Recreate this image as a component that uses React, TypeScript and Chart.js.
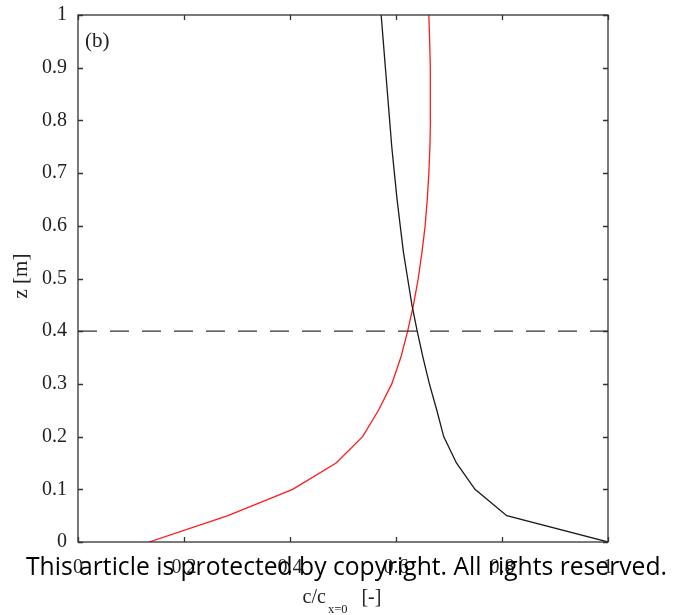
import React, { useEffect, useRef } from "react";
import { Chart, registerables } from "chart.js";

Chart.register(...registerables);

// Height above the bed [m]
const zLevels = [
  0, 0.05, 0.1, 0.15, 0.2, 0.25, 0.3, 0.35, 0.4, 0.45, 0.5,
  0.55, 0.6, 0.65, 0.7, 0.75, 0.8, 0.85, 0.9, 0.95, 1.0,
];

// Normalised concentration profiles c/c_{x=0}
const redProfile = [
  0.134, 0.283, 0.405, 0.487, 0.537, 0.567, 0.592, 0.609, 0.622, 0.633, 0.642,
  0.649, 0.655, 0.659, 0.662, 0.664, 0.665, 0.665, 0.6645, 0.6635, 0.662,
];
const blackProfile = [
  1.0, 0.809, 0.749, 0.714, 0.69, 0.677, 0.663, 0.651, 0.64, 0.63, 0.622,
  0.614, 0.608, 0.602, 0.597, 0.592, 0.588, 0.584, 0.58, 0.576, 0.572,
];

const xTicks = [0, 0.2, 0.4, 0.6, 0.8, 1];
const yTicks = [0, 0.1, 0.2, 0.3, 0.4, 0.5, 0.6, 0.7, 0.8, 0.9, 1];
const referenceDepth = 0.4;

const panelLabel = "(b)";
const yTitle = "z [m]";
const xTitleMain = "c/c";
const xTitleSub = "x=0";
const xTitleUnit = "[-]";
const notice = "This article is protected by copyright. All rights reserved.";

const SERIF = '"Liberation Serif", "Times New Roman", serif';
const AXIS = "#333333";

const fmt = (v: number) => String(Number(v.toFixed(2)));

const framePlugin = {
  id: "frame",
  afterDatasetsDraw(chart: any) {
    const { ctx, chartArea: a, scales } = chart;
    ctx.save();
    ctx.strokeStyle = AXIS;
    ctx.lineWidth = 1.3;
    ctx.strokeRect(a.left, a.top, a.right - a.left, a.bottom - a.top);
    ctx.beginPath();
    const tl = 5;
    xTicks.forEach((v) => {
      const px = Math.round(scales.x.getPixelForValue(v)) + 0.5;
      ctx.moveTo(px, a.bottom);
      ctx.lineTo(px, a.bottom - tl);
      ctx.moveTo(px, a.top);
      ctx.lineTo(px, a.top + tl);
    });
    yTicks.forEach((v) => {
      const py = Math.round(scales.y.getPixelForValue(v)) + 0.5;
      ctx.moveTo(a.left, py);
      ctx.lineTo(a.left + tl, py);
      ctx.moveTo(a.right, py);
      ctx.lineTo(a.right - tl, py);
    });
    ctx.stroke();
    ctx.restore();
  },
  afterDraw(chart: any) {
    const { ctx, chartArea: a } = chart;
    ctx.save();
    ctx.fillStyle = "#222";
    ctx.textBaseline = "alphabetic";

    // panel label
    ctx.font = `21px ${SERIF}`;
    ctx.textAlign = "left";
    ctx.fillText(panelLabel, a.left + 7, a.top + 32);

    // y title, rotated
    ctx.save();
    ctx.translate(27, 276);
    ctx.rotate(-Math.PI / 2);
    ctx.textAlign = "center";
    ctx.font = `21px ${SERIF}`;
    ctx.fillText(yTitle, 0, 0);
    ctx.restore();

    // x title with subscript
    const mainFont = `20px ${SERIF}`;
    const subFont = `12.5px ${SERIF}`;
    const gap = 14;
    ctx.font = mainFont;
    const w1 = ctx.measureText(xTitleMain).width;
    const w3 = ctx.measureText(xTitleUnit).width;
    ctx.font = subFont;
    const w2 = ctx.measureText(xTitleSub).width;
    const total = w1 + 2 + w2 + gap + w3;
    let x0 = 342 - total / 2;
    const base = 603;
    ctx.textAlign = "left";
    ctx.font = mainFont;
    ctx.fillText(xTitleMain, x0, base);
    x0 += w1 + 2;
    ctx.font = subFont;
    ctx.fillText(xTitleSub, x0, base + 10);
    x0 += w2 + gap;
    ctx.font = mainFont;
    ctx.fillText(xTitleUnit, x0, base);

    // copyright notice across the bottom
    ctx.fillStyle = "#000";
    ctx.font = `25px "Open Sans", "DejaVu Sans", sans-serif`;
    const nw = ctx.measureText(notice).width;
    const targetW = 641;
    ctx.translate(26, 575);
    ctx.scale(targetW / nw, 1);
    ctx.textAlign = "left";
    ctx.fillText(notice, 0, 0);
    ctx.restore();
  },
};

export default function App() {
  const canvasRef = useRef<HTMLCanvasElement | null>(null);

  useEffect(() => {
    document.body.style.margin = "0";
    const canvas = canvasRef.current;
    if (!canvas) return;

    const redPts = zLevels.map((z, i) => ({ x: redProfile[i], y: z }));
    const blackPts = zLevels.map((z, i) => ({ x: blackProfile[i], y: z }));

    const chart = new Chart(canvas, {
      type: "scatter",
      data: {
        datasets: [
          {
            data: [
              { x: 0, y: referenceDepth },
              { x: 1, y: referenceDepth },
            ],
            showLine: true,
            borderColor: AXIS,
            borderWidth: 1.3,
            borderDash: [19, 13],
            pointRadius: 0,
          },
          {
            data: blackPts,
            showLine: true,
            borderColor: "#1a1a1a",
            borderWidth: 1.3,
            pointRadius: 0,
            tension: 0,
          },
          {
            data: redPts,
            showLine: true,
            borderColor: "#ff1a1a",
            borderWidth: 1.3,
            pointRadius: 0,
            tension: 0,
          },
        ],
      },
      options: {
        responsive: false,
        animation: false,
        layout: { padding: { left: 0, right: 67, top: 15, bottom: 0 } },
        plugins: {
          legend: { display: false },
          tooltip: { enabled: false },
        },
        scales: {
          x: {
            type: "linear",
            min: 0,
            max: 1,
            border: { display: false },
            grid: { display: false, drawTicks: false },
            afterBuildTicks: (s: any) => {
              s.ticks = xTicks.map((v) => ({ value: v }));
            },
            afterFit: (s: any) => {
              s.height = 73;
              s.paddingLeft = 0;
              s.paddingRight = 0;
            },
            ticks: {
              padding: 14,
              color: "#222",
              font: { family: SERIF, size: 20 },
              maxRotation: 0,
              callback: (v: any) => fmt(Number(v)),
            },
          },
          y: {
            type: "linear",
            min: 0,
            max: 1,
            border: { display: false },
            grid: { display: false, drawTicks: false },
            afterBuildTicks: (s: any) => {
              s.ticks = yTicks.map((v) => ({ value: v }));
            },
            afterFit: (s: any) => {
              s.width = 78;
              s.paddingTop = 0;
              s.paddingBottom = 0;
            },
            ticks: {
              padding: 11,
              color: "#222",
              font: { family: SERIF, size: 20 },
              callback: (v: any) => fmt(Number(v)),
            },
          },
        },
      },
      plugins: [framePlugin],
    });

    return () => chart.destroy();
  }, []);

  return (
    <div style={{ position: "absolute", left: 0, top: 0, width: 675, height: 615 }}>
      <canvas ref={canvasRef} width={675} height={615} />
    </div>
  );
}
